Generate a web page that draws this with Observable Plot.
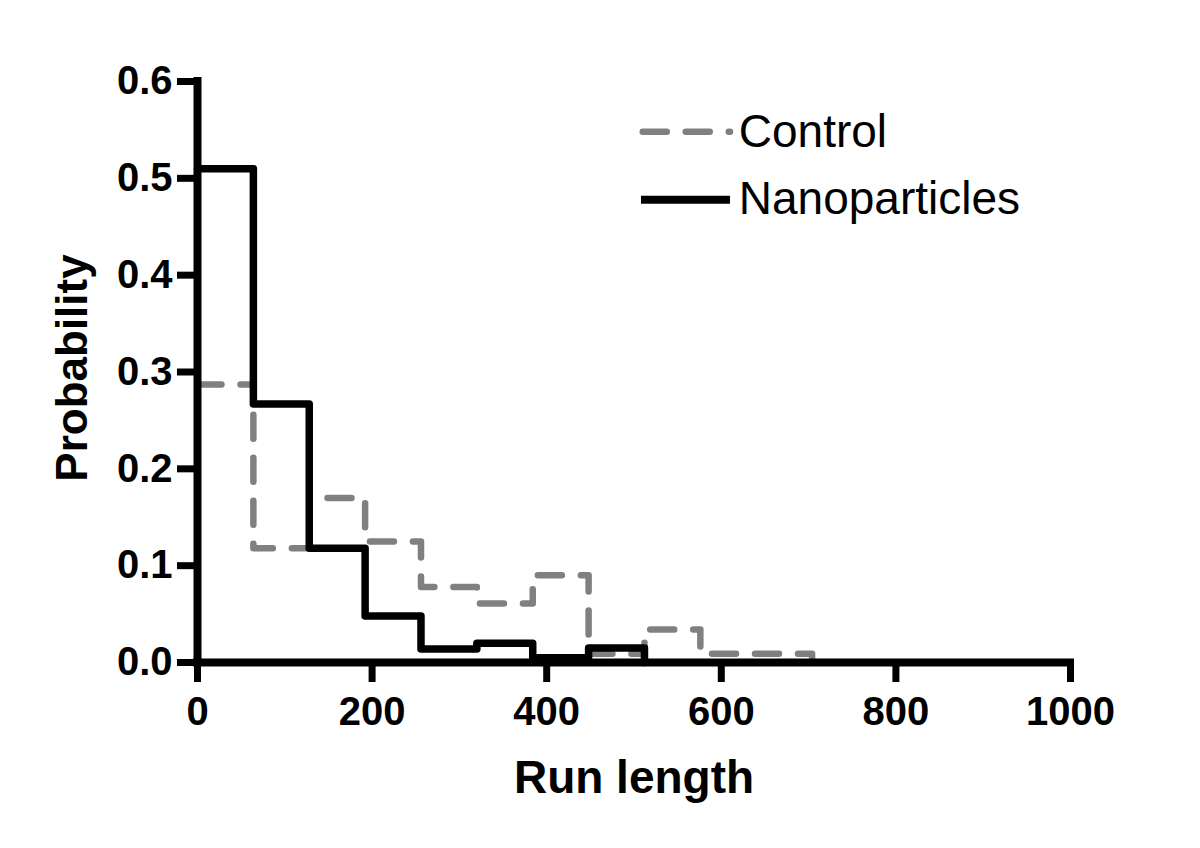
<!DOCTYPE html>
<html>
<head>
<meta charset="utf-8">
<script src="https://cdn.jsdelivr.net/npm/d3@7"></script>
<script src="https://cdn.jsdelivr.net/npm/@observablehq/plot@0.6"></script>
<style>
  html, body { margin: 0; padding: 0; background: #fff; }
</style>
</head>
<body>
<div id="chart"></div>
<script>
// Bin edges of the run-length histogram
const binEdges = [0, 64, 128, 192, 256, 320, 384, 448, 512, 576, 640, 704];
// Probabilities per bin
const controlProb = [0.287, 0.118, 0.170, 0.125, 0.078, 0.061, 0.090, 0.009, 0.034, 0.009, 0.009];
const nanoProb = [0.510, 0.267, 0.118, 0.048, 0.014, 0.020, 0.005, 0.015];
// Ticks
const xTicks = [0, 200, 400, 600, 800, 1000];
const yTicks = [0.0, 0.1, 0.2, 0.3, 0.4, 0.5, 0.6];
// Legend
const seriesNames = ["Control", "Nanoparticles"];

function stepData(values) {
  const pts = values.map((v, i) => ({x: binEdges[i], y: v}));
  pts.push({x: binEdges[values.length], y: 0});
  return pts;
}
const controlLine = stepData(controlProb);
const nanoLine = stepData(nanoProb);

const legendRows = [
  {name: seriesNames[0], y: 0.548, dashed: true},
  {name: seriesNames[1], y: 0.478, dashed: false}
];

const chart = Plot.plot({
  width: 1200,
  height: 848,
  marginLeft: 197,
  marginRight: 130,
  marginTop: 81,
  marginBottom: 186,
  x: {domain: [0, 1000]},
  y: {domain: [0, 0.6]},
  style: {fontFamily: "'Liberation Sans', Arial, sans-serif", background: "white", color: "black", fontWeight: "bold"},
  marks: [
    Plot.axisX({ticks: xTicks, tickSize: 20, tickPadding: 14, strokeWidth: 7, fontSize: 40, fontWeight: "bold", label: null, tickFormat: d => String(d)}),
    Plot.axisY({ticks: yTicks, tickSize: 20, tickPadding: 5, strokeWidth: 7, fontSize: 40, fontWeight: "bold", label: null, tickFormat: d => d.toFixed(1)}),
    Plot.line(controlLine, {x: "x", y: "y", curve: "step-after", stroke: "#808080", strokeWidth: 6.5, strokeDasharray: "24,19", strokeLinecap: "round", strokeLinejoin: "round"}),
    Plot.line(nanoLine, {x: "x", y: "y", curve: "step-after", stroke: "black", strokeWidth: 7.5, strokeLinejoin: "round"}),
    Plot.ruleY([0], {x1: 0, x2: 1000, stroke: "black", strokeWidth: 8, strokeLinecap: "square"}),
    Plot.ruleX([0], {y1: 0, y2: 0.6, stroke: "black", strokeWidth: 8, strokeLinecap: "square"}),
    // Legend
    Plot.link(legendRows.filter(d => d.dashed), {x1: () => 510, x2: () => 610, y1: "y", y2: "y", stroke: "#808080", strokeWidth: 6.5, strokeDasharray: "24,19", strokeLinecap: "round"}),
    Plot.link(legendRows.filter(d => !d.dashed), {x1: () => 508, x2: () => 610, y1: "y", y2: "y", stroke: "black", strokeWidth: 8, strokeLinecap: "butt"}),
    Plot.text(legendRows, {x: () => 620, y: "y", text: "name", textAnchor: "start", lineAnchor: "middle", fontSize: 46, fontWeight: "normal", fill: "black"}),
    // Axis titles
    Plot.text(["Run length"], {frameAnchor: "bottom", textAnchor: "middle", lineAnchor: "top", dy: 98, fontSize: 46, fontWeight: "bold", fill: "black"}),
    Plot.text(["Probability"], {frameAnchor: "left", textAnchor: "middle", lineAnchor: "top", rotate: -90, dx: -142, dy: -4, fontSize: 44, fontWeight: "bold", fill: "black"})
  ]
});
document.getElementById("chart").appendChild(chart);
</script>
</body>
</html>
